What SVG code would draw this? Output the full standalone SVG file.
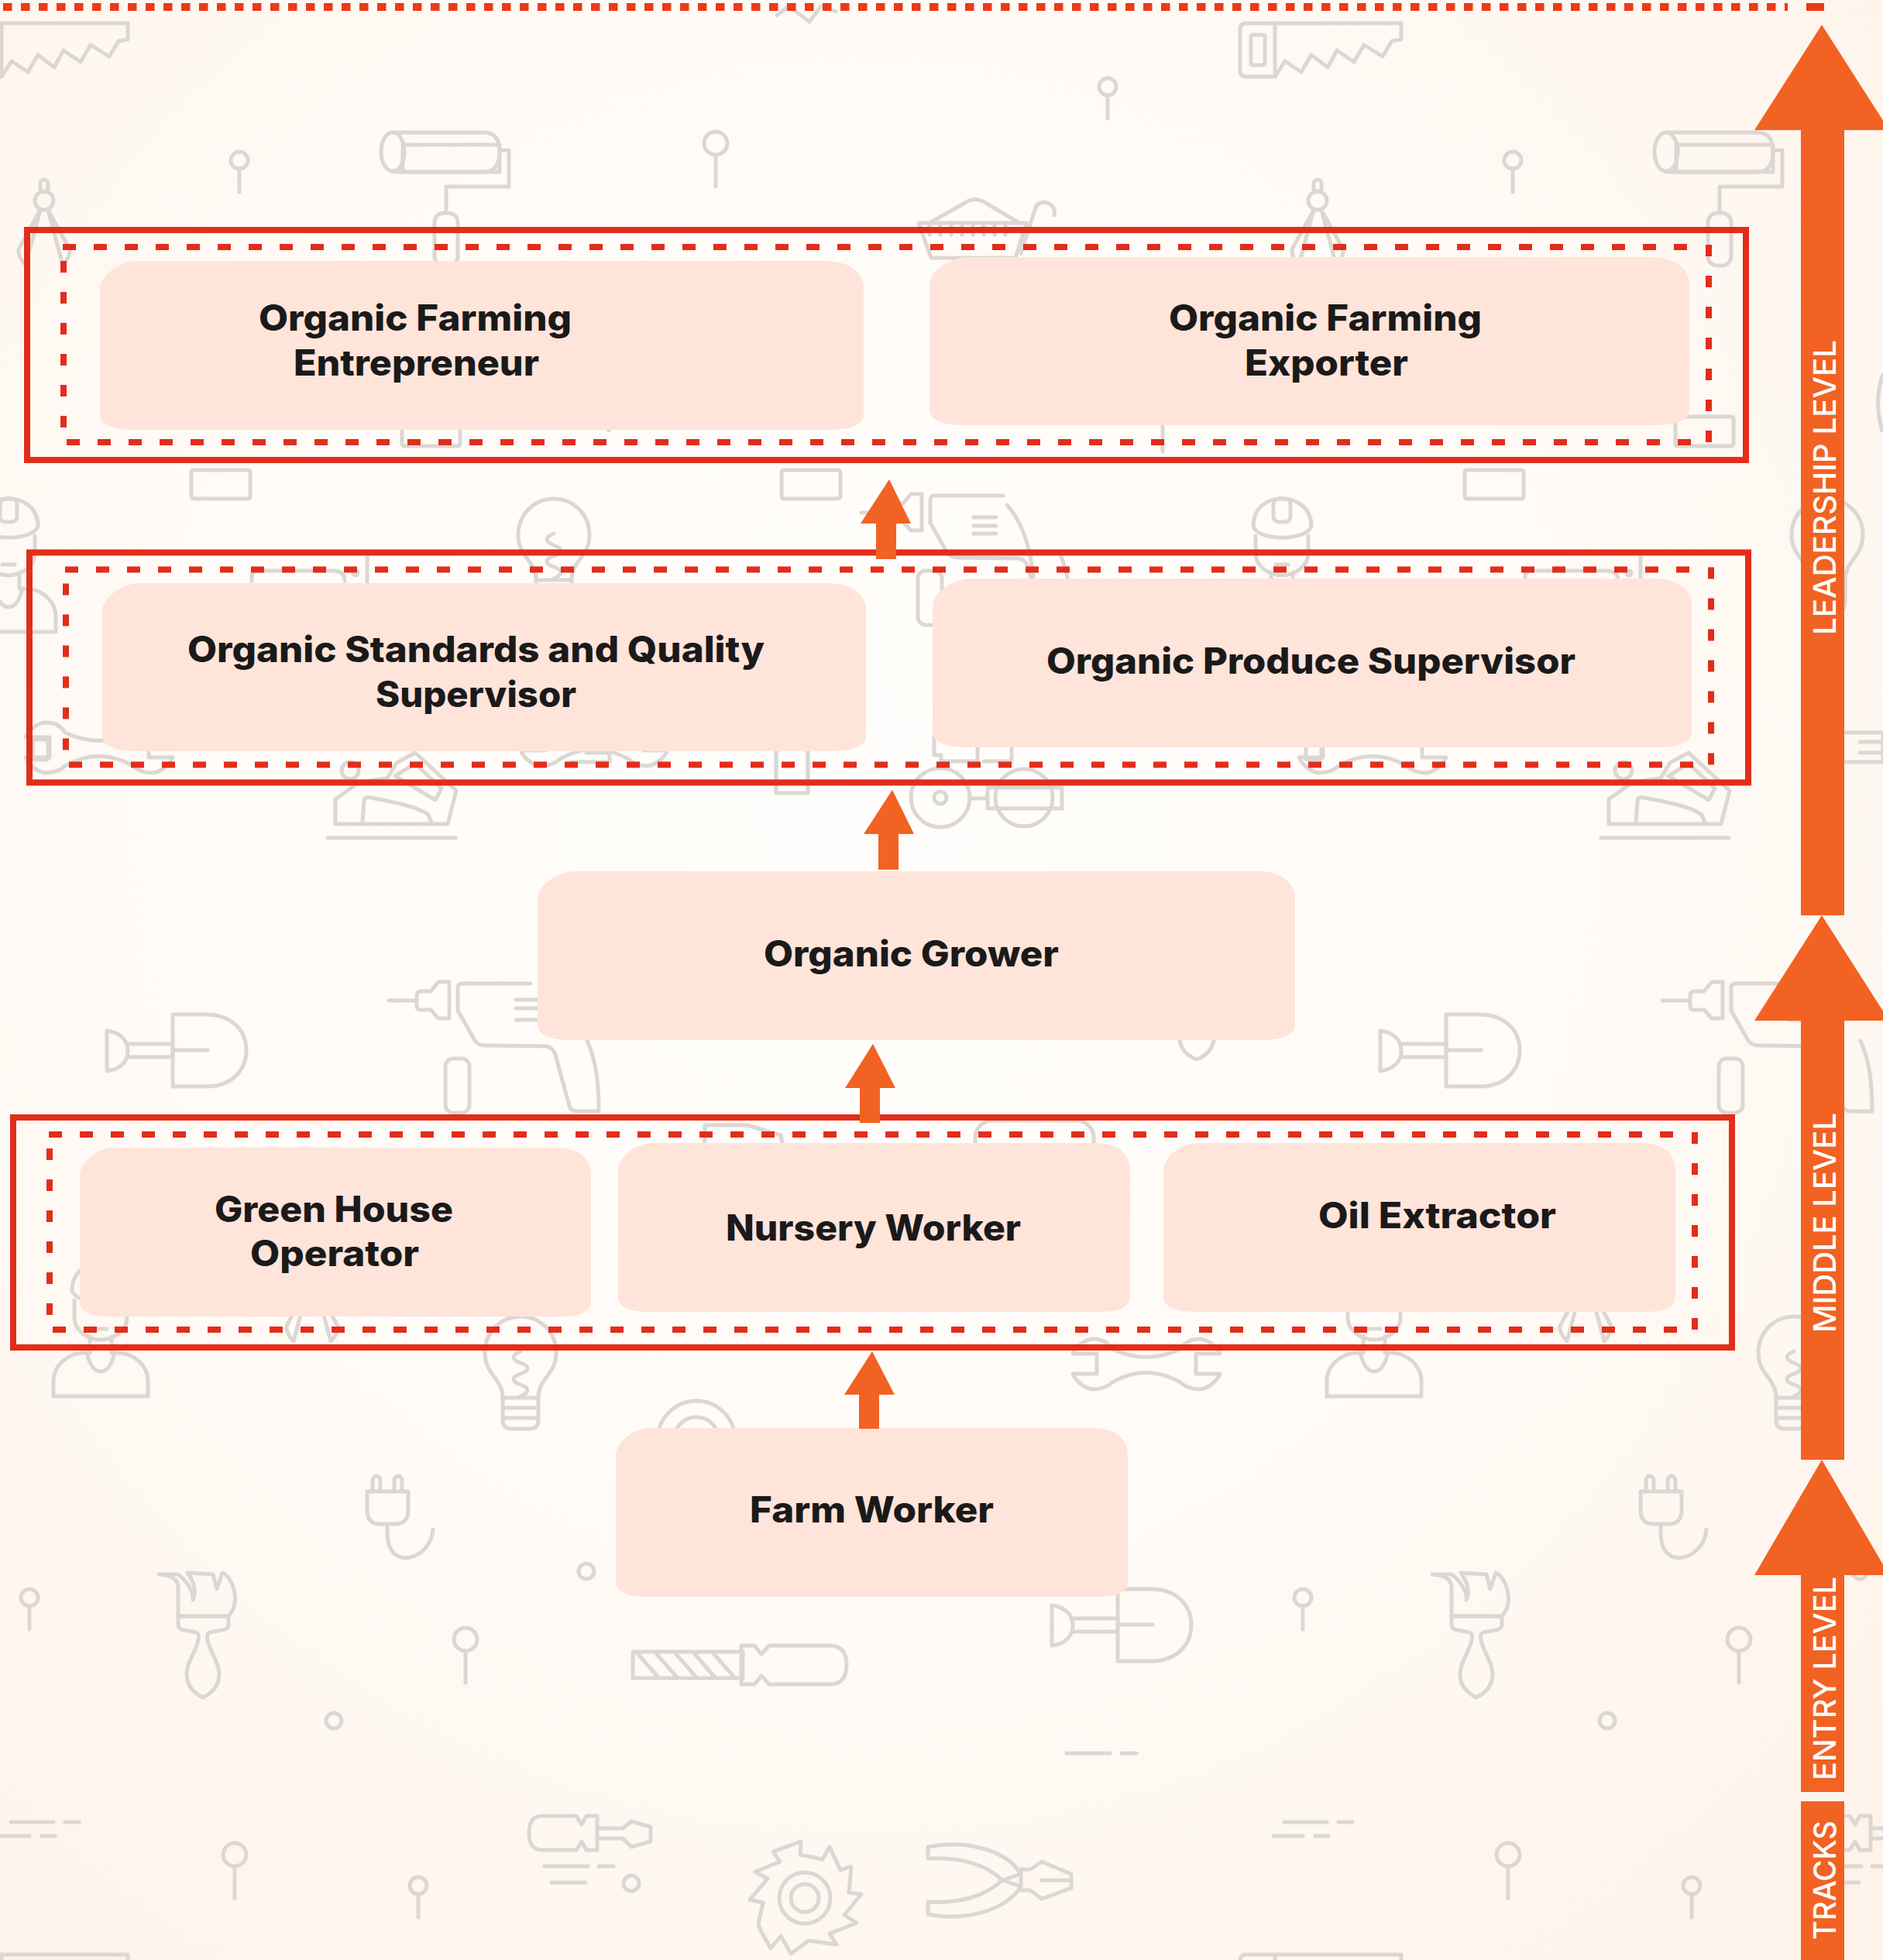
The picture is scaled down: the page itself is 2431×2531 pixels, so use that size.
<svg xmlns="http://www.w3.org/2000/svg" width="2431" height="2531" viewBox="0 0 2431 2531">
<style>
.i{fill:none;stroke:#dcd7d2;stroke-width:5;stroke-linecap:round;stroke-linejoin:round}
.i .f{fill:#f5f1ec}
.i .nf{fill:#f5f1ec;stroke:none}
.node{fill:#ffe4da}
.frame{fill:none;stroke:#e22d1b;stroke-width:8}
.dh{fill:none;stroke:#e22d1b;stroke-width:8;stroke-dasharray:17 23}
.dv{fill:none;stroke:#e22d1b;stroke-width:8;stroke-dasharray:15 25}
.arrow{fill:#f26222}
.t{font-family:"Inter","Liberation Sans",sans-serif;font-weight:800;font-size:46px;fill:#1a1a1a}
.s{font-family:"Inter","Liberation Sans",sans-serif;font-weight:500;font-size:40px;fill:#fff}
</style>
<defs>
<radialGradient id="bg" cx="46%" cy="42%" r="75%">
<stop offset="0" stop-color="#fffefc"/><stop offset="0.5" stop-color="#fffbf7"/><stop offset="1" stop-color="#fef3ea"/>
</radialGradient>
<g id="pinS"><circle cy="0" r="11"/><path d="M0 11V41"/></g>
<g id="pinL"><circle cy="0" r="15"/><path d="M0 15V56"/></g>
<g id="ring"><circle r="10"/></g>
<g id="saw"><path d="M-43 38Q-43 30 -35 30H165V51L153 53L141 73L117 58L104 80L82 65L70 87L49 71L36 93L15 79L2 99H-35Q-43 99 -43 92Z"/><path d="M2 30V99"/><rect x="-29" y="45" width="18" height="39" rx="2"/></g>
<g id="compass"><rect x="-5" y="0" width="10" height="16" rx="5"/><circle cy="27" r="12"/><path d="M-5 39L-33 90Q-34 100 -24 110L-5 39Z"/><path d="M5 39L33 90Q34 100 24 110L5 39Z"/></g>
<g id="person"><path class="f" d="M-37 36C-37 12 -20 0 0 0C20 0 38 12 38 36C30 55 -30 55 -37 36Z"/><rect x="-11" y="0" width="22" height="30" rx="7"/><path d="M-34 48V70C-34 88 -16 99 0 99C16 99 34 88 34 70V48"/><path d="M-8 85H8"/><path d="M-14 95V116H-22C-44 116 -61 134 -61 152V172H61V152C61 134 44 116 22 116H14V95"/><path d="M-18 116C-14 132 -8 140 0 140C8 140 14 132 18 116"/></g>
<g id="bulb"><path class="f" d="M-23 105C-23 80 -46 75 -46 47C-46 20 -25 0 0 0C25 0 46 20 46 47C46 75 23 80 23 105V134Q23 145 12 145H-12Q-23 145 -23 134Z"/><path d="M0 45C-12 50 -12 55 0 60C12 64 12 70 0 74C-12 78 -12 84 0 88C12 92 12 98 0 103"/><path d="M-23 105H23M-23 118H23M-23 131H23"/></g>
<g id="drill"><path d="M502 1292H536"/><path class="f" d="M580 1268H566L556 1280H543Q538 1280 538 1286V1299Q538 1304 543 1304H556L566 1315H580Z"/><path d="M591 1305V1276Q591 1270 597 1270H685"/><path d="M591 1305L612 1342Q616 1350 626 1350L704 1351Q714 1352 717 1362L735 1428Q737 1435 745 1435H773C773 1400 770 1370 758 1344"/><rect class="f" x="575" y="1367" width="31" height="70" rx="10"/></g>
<g id="shovel"><path d="M223 1310H266C298 1310 318 1330 318 1356C318 1383 298 1403 266 1403H223Z"/><path d="M223 1356H268"/><path class="f" d="M165 1348H223V1365H165"/><path d="M138 1331C155 1333 165 1343 165 1357C165 1371 155 1381 138 1383Z"/></g>
<g id="plane"><path d="M423 1082H588"/><path d="M433 1064H578L589 1021L536 972L512 985L500 1005L464 1010L433 1032Z"/><path d="M468 1062L470 1034Q471 1028 478 1030C510 1036 540 1042 553 1052L557 1062"/><path d="M510 1002L536 986L570 1018L562 1033Z"/><circle cx="452" cy="995" r="11"/></g>
<g id="wrench"><path d="M-44 -19C-50 -29 -60 -32 -68 -32C-78 -32 -90 -24 -95 -13H-64V13H-95C-90 24 -78 33 -68 33C-60 33 -50 30 -44 24Q0 -1 44 24C50 30 60 33 68 33C78 33 90 24 95 13H64V-13H95C90 -24 78 -32 68 -32C60 -32 50 -29 44 -19Q0 2 -44 -19Z"/></g>
<g id="brush"><path d="M230 2087V2050C230 2040 222 2034 205 2033H230C240 2040 251 2056 249 2066C254 2055 250 2042 242 2031L275 2033L280 2052L287 2031C300 2036 312 2068 295 2087Z"/><path d="M230 2087H295V2098Q295 2104 286 2105L271 2108Q266 2110 268 2118C272 2136 283 2146 283 2162C283 2176 274 2186 262 2192C250 2186 241 2176 241 2162C241 2146 252 2136 256 2118Q258 2110 253 2108L238 2105Q230 2104 230 2098Z"/></g>
<g id="plug"><path d="M481 1926V1910Q486 1902 491 1910V1926M509 1926V1910Q514 1902 519 1910V1926"/><path d="M474 1926H527V1950Q527 1968 510 1968H491Q474 1968 474 1950Z"/><path d="M500 1968V1980C500 2030 556 2015 559 1975"/></g>
<g id="tile">
<use href="#saw"/>
<use href="#saw" y="2494"/>
<use href="#pinS" x="309" y="207"/><use href="#pinL" x="924" y="185"/><use href="#pinS" x="1430" y="112"/>
<use href="#pinS" x="38" y="2063"/><use href="#pinL" x="601" y="2117"/><use href="#pinL" x="303" y="2395"/><use href="#pinS" x="540" y="2435"/>
<path d="M1501 550V583"/>
<use href="#ring" x="431" y="2222"/><use href="#ring" x="757" y="2029"/><use href="#ring" x="815" y="2432"/>
<use href="#compass" x="57" y="232"/><use href="#compass" x="403" y="1622"/>
<rect class="nf" x="520" y="187" width="125" height="35"/>
<path d="M507 171H625Q645 171 645 196Q645 222 625 222H507"/><ellipse cx="507" cy="196" rx="15" ry="25"/>
<path d="M646 194H657V241H576V275"/><rect x="561" y="275" width="30" height="68" rx="12"/>
<path d="M1186 288H1325L1311 333H1202Z" class="f"/><path d="M1200 288L1244 263Q1259 252 1274 263L1316 288"/><path d="M1318 327L1337 268C1342 255 1365 262 1361 278"/>
<path d="M1200 288V303M1214 288V303M1228 288V303M1242 288V303M1256 288V303M1270 288V303M1284 288V303M1298 288V303"/>
<rect x="247" y="607" width="76" height="37" rx="3"/><rect x="1009" y="607" width="76" height="37" rx="3"/><rect x="519" y="538" width="75" height="38" rx="3"/>
<use href="#person" x="11" y="644"/><use href="#person" x="130" y="1631"/>
<use href="#bulb" x="715" y="644"/><use href="#bulb" x="672" y="1700"/>
<use href="#drill"/><use href="#drill" transform="translate(610 -630)"/>
<path d="M1300 652C1318 672 1330 705 1334 745"/>
<path d="M666 1291H700M666 1302H700M666 1317H700"/><path d="M1257 668H1286M1257 679H1286M1257 689H1286"/>
<use href="#shovel"/><use href="#shovel" transform="translate(1220 742)"/>
<use href="#plane"/>
<use href="#wrench" x="1480" y="1761"/><use href="#wrench" x="128" y="965"/>
<rect x="42" y="955" width="20" height="26" rx="2"/>
<use href="#brush"/><use href="#plug"/>
<rect x="817" y="2133" width="142" height="34"/><path d="M823 2135L850 2166M847 2135L874 2166M872 2135L899 2166M896 2135L923 2166M921 2135L948 2166"/>
<path class="f" d="M957 2125H974L983 2136L993 2125H1071Q1093 2125 1093 2150Q1093 2175 1071 2175H993L983 2164L974 2175H957Z"/>
<path d="M771 2345H757L751 2356L744 2345H700Q683 2345 683 2367Q683 2389 700 2389H744L751 2378L757 2389H771Z"/><path class="f" d="M771 2361H804L815 2352L840 2359V2378L815 2385L804 2374H771"/>
<path d="M14 2353H69M84 2353H102M0 2371H38M54 2371H71M703 2410H759M773 2410H792M712 2431H756M1377 2264H1433M1448 2264H1467"/>
<path d="M1034 2378L1033 2395L1062 2401L1071 2385L1085 2415L1099 2410L1096 2444L1112 2446L1090 2473L1106 2483L1071 2497L1080 2511L1044 2506L1021 2523L1008 2500L995 2516L981 2491L979 2484L985 2457L968 2453L991 2426L975 2417L1007 2404L998 2391Z"/>
<circle cx="1039" cy="2451" r="33"/><circle cx="1039" cy="2451" r="18"/>
<path class="f" d="M1198 2385C1250 2375 1300 2390 1318 2420L1294 2428C1270 2405 1235 2398 1198 2400Z"/><path class="f" d="M1198 2472C1250 2482 1300 2465 1318 2436L1294 2428C1270 2450 1235 2458 1198 2456Z"/>
<path d="M1318 2414H1330L1345 2404L1383 2420V2438L1345 2452L1330 2441H1318ZM1345 2428H1383"/>
<circle cx="899" cy="1859" r="50"/><circle cx="899" cy="1859" r="29"/>
<circle class="f" cx="1214" cy="1030" r="38"/><circle cx="1214" cy="1030" r="8"/><circle cx="1322" cy="1030" r="37"/><path d="M1251 1031H1275"/><rect class="f" x="1275" y="1017" width="96" height="27"/>
<rect class="nf" x="1002" y="960" width="41" height="64"/><path d="M1002 960V1024M1043 960V1024"/>
<path d="M1206 950V975H1215V983H1262V965M1270 983H1306V943"/>
<path d="M738 946H787V984H738M757 958H787V972H757"/>
<path d="M1523 1343C1525 1356 1534 1364 1545 1368C1556 1364 1565 1356 1567 1343"/>
<path d="M325 750V745Q325 737 333 737H430Q445 737 445 750M474 717V752"/><circle cx="459" cy="740" r="3"/>
<path class="f" d="M910 1477V1453H965L1008 1466L1010 1477"/>
<rect x="1259" y="1447" width="153" height="60" rx="22"/>
<path d="M1003 20L1018 8L1045 28L1060 8L1079 15"/>
<path d="M786 556C778 530 780 505 786 485"/>
</g>
</defs>
<rect id="background" width="2431" height="2531" fill="url(#bg)"/>
<g id="icons" class="i">
<use href="#tile"/><use href="#tile" x="1644"/>
<use href="#wrench" x="767" y="956"/>
</g>
<g id="top-rule">
<path d="M4 9H2308" fill="none" stroke="#ec3a17" stroke-width="10" stroke-dasharray="11.5 11.5"/>
<rect x="2332" y="4" width="23" height="10" fill="#ec3a17"/>
</g>
<g id="nodes">
<g id="node-entrepreneur"><path class="node" d="M129 373C129 355 155 337 179 337H1065C1095 337 1115 350 1115 373V535C1115 550 1095 555 1070 555H174C150 555 129 550 129 535Z"/>
<text class="t"><tspan x="334" y="427" textLength="404" lengthAdjust="spacingAndGlyphs">Organic Farming</tspan><tspan x="379" y="485" textLength="317" lengthAdjust="spacingAndGlyphs">Entrepreneur</tspan></text></g>
<g id="node-exporter"><path class="node" d="M1200 368C1200 350 1226 332 1250 332H2131C2161 332 2181 345 2181 368V529C2181 544 2161 549 2136 549H1245C1221 549 1200 544 1200 529Z"/>
<text class="t"><tspan x="1509" y="427" textLength="404" lengthAdjust="spacingAndGlyphs">Organic Farming</tspan><tspan x="1607" y="485" textLength="211" lengthAdjust="spacingAndGlyphs">Exporter</tspan></text></g>
<g id="node-standards"><path class="node" d="M132 789C132 771 158 753 182 753H1068C1098 753 1118 766 1118 789V950C1118 965 1098 970 1073 970H177C153 970 132 965 132 950Z"/>
<text class="t"><tspan x="242" y="855" textLength="745" lengthAdjust="spacingAndGlyphs">Organic Standards and Quality</tspan><tspan x="485" y="913" textLength="259" lengthAdjust="spacingAndGlyphs">Supervisor</tspan></text></g>
<g id="node-produce"><path class="node" d="M1204 783C1204 765 1230 747 1254 747H2134C2164 747 2184 760 2184 783V945C2184 960 2164 965 2139 965H1249C1225 965 1204 960 1204 945Z"/>
<text class="t" x="1351" y="870" textLength="683" lengthAdjust="spacingAndGlyphs">Organic Produce Supervisor</text></g>
<g id="node-grower"><path class="node" d="M694 1161C694 1143 720 1125 744 1125H1622C1652 1125 1672 1138 1672 1161V1323C1672 1338 1652 1343 1627 1343H739C715 1343 694 1338 694 1323Z"/>
<text class="t" x="986" y="1248" textLength="381" lengthAdjust="spacingAndGlyphs">Organic Grower</text></g>
<g id="node-greenhouse"><path class="node" d="M103 1518C103 1500 125 1482 149 1482H717C747 1482 763 1495 763 1518V1680C763 1695 747 1700 722 1700H144C120 1700 103 1695 103 1680Z"/>
<text class="t"><tspan x="277" y="1578" textLength="308" lengthAdjust="spacingAndGlyphs">Green House</tspan><tspan x="323" y="1635" textLength="218" lengthAdjust="spacingAndGlyphs">Operator</tspan></text></g>
<g id="node-nursery"><path class="node" d="M798 1512C798 1494 820 1476 844 1476H1413C1443 1476 1459 1489 1459 1512V1674C1459 1689 1443 1694 1418 1694H839C815 1694 798 1689 798 1674Z"/>
<text class="t" x="937" y="1602" textLength="381" lengthAdjust="spacingAndGlyphs">Nursery Worker</text></g>
<g id="node-oil"><path class="node" d="M1502 1512C1502 1494 1524 1476 1548 1476H2117C2147 1476 2163 1489 2163 1512V1674C2163 1689 2147 1694 2122 1694H1543C1519 1694 1502 1689 1502 1674Z"/>
<text class="t" x="1702" y="1586" textLength="307" lengthAdjust="spacingAndGlyphs">Oil Extractor</text></g>
<g id="node-farm"><path class="node" d="M795 1880C795 1862 817 1844 841 1844H1410C1440 1844 1456 1857 1456 1880V2042C1456 2057 1440 2062 1415 2062H836C812 2062 795 2057 795 2042Z"/>
<text class="t" x="968" y="1966" textLength="315" lengthAdjust="spacingAndGlyphs">Farm Worker</text></g>
</g>
<g id="frames">
<defs><g id="frame"><rect class="frame" x="35" y="297" width="2219" height="297"/><path class="dh" d="M81 319H2180"/><path class="dh" d="M86 571H2184"/><path class="dv" d="M82 337V552"/><path class="dv" d="M2206 316V572"/></g></defs>
<use href="#frame"/><use href="#frame" transform="translate(3 416.5)"/><use href="#frame" transform="translate(-18 1146)"/>
</g>
<g id="connectors">
<path class="arrow" d="M1148 619L1176 676H1157V722H1131V676H1111Z"/>
<path class="arrow" d="M1152 1020L1180 1077H1160V1123H1134V1077H1115Z"/>
<path class="arrow" d="M1127 1348L1156 1405H1136V1450H1110V1405H1091Z"/>
<path class="arrow" d="M1126 1745L1155 1801H1135V1845H1109V1801H1090Z"/>
<path class="arrow" d="M2352 32L2439 168H2381V1182H2325V168H2265Z"/>
<path class="arrow" d="M2352 1182L2439 1318H2381V1885H2325V1318H2265Z"/>
<path class="arrow" d="M2352 1885L2439 2034H2381V2314H2325V2034H2265Z"/>
<rect class="arrow" x="2325" y="2326" width="56" height="205"/>
</g>
<g id="track-labels">
<text class="s" transform="translate(2370 820) rotate(-90)" textLength="381" lengthAdjust="spacingAndGlyphs">LEADERSHIP LEVEL</text>
<text class="s" transform="translate(2370 1721) rotate(-90)" textLength="284" lengthAdjust="spacingAndGlyphs">MIDDLE LEVEL</text>
<text class="s" transform="translate(2370 2299) rotate(-90)" textLength="263" lengthAdjust="spacingAndGlyphs">ENTRY LEVEL</text>
<text class="s" transform="translate(2370 2505) rotate(-90)" textLength="154" lengthAdjust="spacingAndGlyphs">TRACKS</text>
</g>
</svg>
